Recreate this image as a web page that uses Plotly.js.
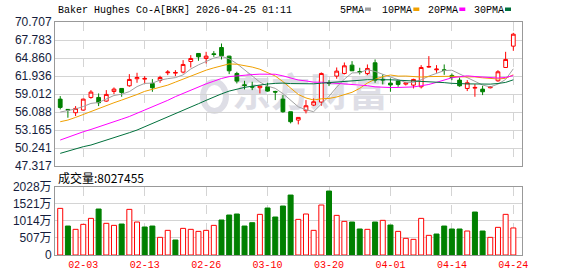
<!DOCTYPE html>
<html><head><meta charset="utf-8">
<script src="https://cdn.plot.ly/plotly-3.0.1.min.js"></script>
<style>html,body{margin:0;padding:0;background:#fff;}#chart{width:578px;height:276px;}</style>
</head><body><div id="chart"></div>
<script>
const dates = ["2026-01-29","2026-01-30","2026-02-02","2026-02-03","2026-02-04","2026-02-05","2026-02-06","2026-02-09","2026-02-10","2026-02-11","2026-02-12","2026-02-13","2026-02-17","2026-02-18","2026-02-19","2026-02-20","2026-02-23","2026-02-24","2026-02-25","2026-02-26","2026-02-27","2026-03-02","2026-03-03","2026-03-04","2026-03-05","2026-03-06","2026-03-09","2026-03-10","2026-03-11","2026-03-12","2026-03-13","2026-03-16","2026-03-17","2026-03-18","2026-03-19","2026-03-20","2026-03-23","2026-03-24","2026-03-25","2026-03-26","2026-03-27","2026-03-30","2026-03-31","2026-04-01","2026-04-02","2026-04-06","2026-04-07","2026-04-08","2026-04-09","2026-04-10","2026-04-13","2026-04-14","2026-04-15","2026-04-16","2026-04-17","2026-04-20","2026-04-21","2026-04-22","2026-04-23","2026-04-24"];
const openP  = [58.20,56.53,55.99,56.42,58.47,58.47,57.88,59.44,59.93,60.36,61.50,61.44,60.74,61.23,62.47,62.41,62.58,64.30,65.60,64.79,65.55,66.57,65.17,62.36,60.52,60.25,60.04,60.20,59.44,58.20,56.15,54.80,56.31,57.23,57.72,60.90,61.93,62.36,63.71,62.68,62.36,64.09,61.40,60.79,61.12,60.63,60.47,60.20,63.39,62.95,62.95,62.04,61.28,59.93,59.98,59.82,60.04,61.17,63.33,66.79];
const highP  = [58.69,56.53,57.07,58.26,59.66,59.12,59.66,60.09,59.93,62.25,62.47,61.93,61.44,61.98,62.90,62.90,64.52,65.33,65.60,65.87,65.98,67.22,65.22,62.63,61.17,61.01,60.31,60.85,59.55,58.85,56.15,55.23,58.04,58.31,62.52,61.28,63.33,64.14,64.36,63.28,63.82,64.63,62.20,61.55,61.17,61.01,61.50,63.71,65.17,63.71,63.82,62.36,61.71,61.28,60.63,60.36,60.31,62.90,65.87,68.95];
const lowP   = [56.53,55.18,55.45,56.31,58.26,57.07,57.77,59.01,58.58,60.20,60.85,60.74,59.39,60.85,62.09,61.93,62.36,63.33,64.41,63.98,65.06,64.63,62.25,60.74,59.77,59.66,59.12,59.39,58.04,55.99,54.26,54.10,55.88,57.07,57.12,60.31,61.50,62.20,62.79,62.20,62.09,60.85,60.58,59.39,60.20,60.41,59.93,59.93,63.28,62.47,62.14,61.28,60.20,59.50,58.58,58.85,59.93,61.01,63.28,66.03];
const closeP = [56.85,56.42,56.69,58.20,59.34,57.61,58.96,59.82,59.28,61.39,61.71,61.55,60.04,61.71,62.58,62.52,63.82,64.79,65.06,65.17,65.44,65.22,62.79,61.12,60.41,60.15,60.31,59.50,59.34,56.15,54.53,55.23,57.12,57.77,62.36,60.74,62.74,63.60,62.79,62.58,63.17,61.28,61.32,60.50,60.58,60.85,61.39,63.33,63.49,63.06,62.85,61.71,60.36,60.85,60.09,59.39,60.20,62.63,64.63,68.73];
const prevClose = 56.40;
// volume in 万 shares
const volume = [1385,860,762,910,1088,1365,940,880,920,1355,979,831,860,524,732,445,791,762,702,732,880,1039,1187,1217,860,959,1207,1395,1128,1454,1780,1058,1217,732,1484,1899,1177,999,979,772,762,979,1029,890,702,495,465,1088,584,623,860,772,772,712,1276,712,524,821,1207,802.7455];
const ma5Head  = [56.1,56.3,56.6,57.0];
const ma10Head = [54.53,54.80,55.23,55.72,56.15,56.69,57.23,57.61,58.04];
const ma20Head = [51.56,52.05,52.50,52.90,53.28,53.68,54.05,54.50,54.95,55.38,55.88,56.45,57.00,57.50,58.00,58.60,59.15,59.70,60.20];
const ma30Head = [49.40,49.78,50.21,50.48,50.75,51.13,51.56,51.94,52.37,52.75,53.18,53.70,54.25,54.80,55.35,55.85,56.35,56.90,57.45,58.00,58.55,59.05,59.50,59.85,60.10,60.30,60.50,60.65,60.75];
const priceTicks = ["47.317","50.241","53.165","56.088","59.012","61.936","64.860","67.783","70.707"];
const volTicks = [0,507,1014,1521,2028];
const volTickText = ["0","507万","1014万","1521万","2028万"];
const tickDates = ["2026-02-03","2026-02-13","2026-02-26","2026-03-10","2026-03-20","2026-04-01","2026-04-14","2026-04-24"];
const tickText = ["02-03","02-13","02-26","03-10","03-20","04-01","04-14","04-24"];
const titleText = "Baker Hughes Co-A[BKR] 2026-04-25 01:11";
const maNames = ["5PMA","10PMA","20PMA","30PMA"];
const maColors = ["#a0a0a0","#f0a000","#ff00ff","#00703c"];

function sma(n, head){
  return closeP.map((c,i)=>{
    if(i < head.length) return head[i];
    let s=0; for(let k=i-n+1;k<=i;k++) s+=closeP[k]; return s/n;
  });
}
const mas = [sma(5,ma5Head), sma(10,ma10Head), sma(20,ma20Head), sma(30,ma30Head)];

const W=578,H=276,L=55,R=56,T=22,B=21;
const pw=W-L-R, ph=H-T-B;
const px=x=>(x-L)/pw, py=y=>(H-B-y)/ph;

const up = closeP.map((c,i)=> c >= (i? closeP[i-1] : prevClose));
const RED="#ff0000", GRN="#008000";

const traces = [];
mas.forEach((m,k)=>traces.push({type:"scatter",mode:"lines",x:dates,y:m,xaxis:"x",yaxis:"y",
  line:{color:maColors[k],width:1},hoverinfo:"skip",showlegend:false}));
traces.push({type:"candlestick",x:dates,open:openP,high:highP,low:lowP,close:closeP,xaxis:"x",yaxis:"y",
  increasing:{line:{color:RED,width:1},fillcolor:"#ffffff"},
  decreasing:{line:{color:GRN,width:1},fillcolor:GRN},
  whiskerwidth:0,hoverinfo:"skip",showlegend:false});
traces.push({type:"bar",x:dates,y:volume,xaxis:"x2",yaxis:"y2",width:0.65,
  marker:{color:up.map(u=>u?"#ffffff":GRN),line:{color:up.map(u=>u?RED:GRN),width:1}},
  hoverinfo:"skip",showlegend:false});

const xr=[-0.68,60.13];
const frame="#999999", grid="#d4d4d4", wm="#dedee6";
const annotations=[
  {text:titleText,xref:"paper",yref:"paper",x:px(56),y:py(10),xanchor:"left",yanchor:"middle",showarrow:false,
   font:{family:"Liberation Mono",size:10,color:"#000"}},
  {text:"成交量:"+Math.round(volume[volume.length-1]*10000),xref:"paper",yref:"paper",x:px(56),y:py(177),xanchor:"left",yanchor:"middle",showarrow:false,
   font:{family:"Noto Sans CJK SC",size:12,color:"#000"}}
];
const legX=[338,380,425.7,471.7], sqX=[365,413.3,459.3,505];
const shapes=[];
maNames.forEach((n,k)=>{
  annotations.push({text:n,xref:"paper",yref:"paper",x:px(legX[k]),y:py(10),xanchor:"left",yanchor:"middle",showarrow:false,
    font:{family:"Liberation Mono",size:10,color:"#000"}});
  shapes.push({type:"rect",xref:"paper",yref:"paper",x0:px(sqX[k]),x1:px(sqX[k]+6),y0:py(11),y1:py(7.5),
    line:{width:0},fillcolor:maColors[k]});
});
// watermark
shapes.push({type:"circle",xref:"paper",yref:"paper",x0:px(203),x1:px(226),y0:py(111),y1:py(82),layer:"below",
  line:{width:6,color:wm},fillcolor:"rgba(0,0,0,0)"});
shapes.push({type:"rect",xref:"paper",yref:"paper",x0:px(228),x1:px(392),y0:py(115),y1:py(75),layer:"below",
  line:{width:0},fillcolor:"rgba(0,0,0,0)",
  label:{text:"东方财富",textposition:"middle center",font:{family:"Noto Sans CJK SC",size:39,color:wm,weight:"bold"}}});

const layout={
  width:W,height:H,margin:{l:L,r:R,t:T,b:B,pad:0},paper_bgcolor:"#fff",plot_bgcolor:"#fff",
  showlegend:false,bargap:0.35,
  xaxis:{type:"category",range:xr,domain:[0,1],anchor:"y",tickvals:tickDates,showticklabels:false,ticks:"",
    showgrid:true,gridcolor:grid,griddash:"dash",gridwidth:1,showline:true,linecolor:frame,linewidth:1,mirror:true,
    zeroline:false,rangeslider:{visible:false},fixedrange:true},
  xaxis2:{type:"category",range:xr,domain:[0,1],anchor:"y2",matches:"x",tickvals:tickDates,ticktext:tickText,ticks:"",
    tickfont:{family:"Liberation Mono",size:10,color:"#ff0000"},
    showgrid:true,gridcolor:grid,griddash:"dash",gridwidth:1,showline:true,linecolor:frame,linewidth:1,mirror:true,
    zeroline:false,rangeslider:{visible:false},fixedrange:true},
  yaxis:{domain:[py(166.2),1],range:[parseFloat(priceTicks[0]),parseFloat(priceTicks[priceTicks.length-1])],
    tickvals:priceTicks.map(parseFloat),ticktext:priceTicks,ticks:"",
    tickfont:{family:"Liberation Sans",size:12,color:"#141c3c"},
    showgrid:true,gridcolor:grid,showline:true,linecolor:frame,linewidth:1,mirror:true,zeroline:false,fixedrange:true},
  yaxis2:{domain:[0,py(186.7)],range:[0,volTicks[volTicks.length-1]],tickvals:volTicks,ticktext:volTickText,ticks:"",
    tickfont:{family:"Liberation Sans, Noto Sans CJK SC",size:12,color:"#141c3c"},
    showgrid:true,gridcolor:grid,showline:true,linecolor:frame,linewidth:1,mirror:true,zeroline:false,fixedrange:true},
  annotations:annotations,shapes:shapes
};
Plotly.newPlot("chart",traces,layout,{staticPlot:true,displayModeBar:false});
</script></body></html>
